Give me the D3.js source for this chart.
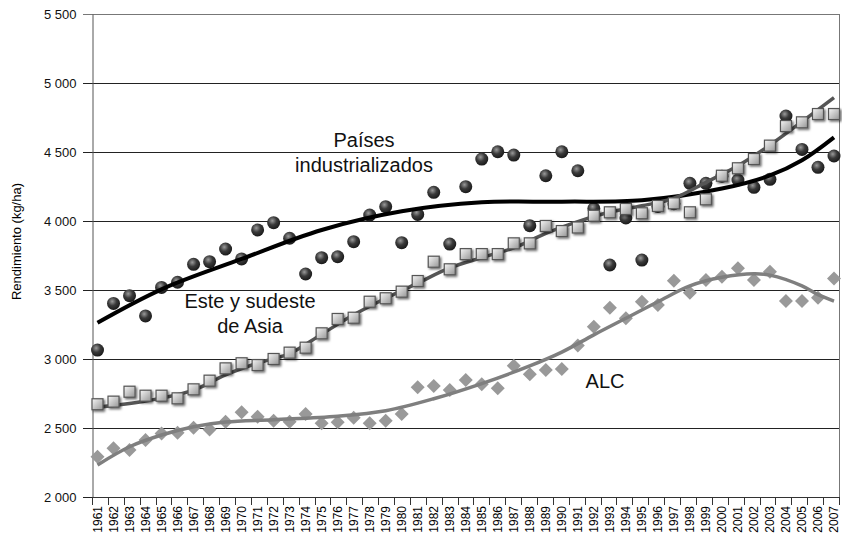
<!DOCTYPE html>
<html>
<head>
<meta charset="utf-8">
<script src="https://cdn.jsdelivr.net/npm/d3@7"></script>
<style>
  body { margin: 0; background: #fff; }
  text { font-family: "Liberation Sans", Arial, sans-serif; }
</style>
</head>
<body>
<script>
const width = 842;
const height = 542;
const margin = { top: 14, right: 3, bottom: 45, left: 92 };

// years 1961..2007
const years = d3.range(1961, 2008);
const yTicks = [2000, 2500, 3000, 3500, 4000, 4500, 5000, 5500];

// Países industrializados (círculos)
const industrializados = [3065, 3403, 3459, 3312, 3519, 3556, 3686, 3705, 3797, 3725,
  3935, 3988, 3875, 3616, 3734, 3741, 3850, 4043, 4104, 3843,
  4048, 4208, 3833, 4249, 4449, 4502, 4478, 3966, 4328, 4502,
  4364, 4090, 3681, 4022, 3717, 4105, 4125, 4273, 4273, 4325,
  4297, 4244, 4302, 4761, 4519, 4389, 4471];

// Este y sudeste de Asia (cuadrados)
const asia = [2672, 2691, 2763, 2734, 2734, 2715, 2780, 2843, 2932, 2969,
  2956, 3000, 3046, 3082, 3186, 3290, 3299, 3415, 3440, 3488,
  3565, 3705, 3650, 3760, 3760, 3760, 3838, 3838, 3964, 3927,
  3953, 4038, 4063, 4087, 4056, 4109, 4128, 4063, 4157, 4328,
  4382, 4449, 4546, 4688, 4715, 4775, 4775];

// ALC (rombos)
const alc = [2292, 2353, 2341, 2413, 2461, 2466, 2502, 2490, 2546, 2614,
  2582, 2553, 2546, 2601, 2534, 2542, 2575, 2534, 2553, 2601,
  2795, 2804, 2775, 2848, 2817, 2788, 2951, 2889, 2920, 2927,
  3098, 3234, 3372, 3295, 3415, 3391, 3567, 3480, 3572, 3596,
  3657, 3572, 3633, 3420, 3420, 3444, 3584];

// trend lines: [year, value]
const trendIndustrializados = [[1961, 3263], [1965, 3505], [1970, 3725], [1975, 3935], [1980, 4070],
  [1985, 4135], [1990, 4140], [1995, 4150], [2000, 4235], [2003, 4330], [2005, 4440], [2007, 4606]];
const trendAsia = [[1961, 2650], [1964, 2695], [1967, 2775], [1969, 2885], [1971, 2970],
  [1973, 3040], [1975, 3180], [1977, 3320], [1979, 3440], [1981, 3550], [1983, 3660], [1985, 3735],
  [1987, 3805], [1989, 3910], [1991, 3995], [1993, 4065], [1995, 4110], [1997, 4165], [1999, 4280],
  [2001, 4400], [2003, 4550], [2005, 4720], [2007, 4894]];
const trendAlc = [[1961, 2232], [1963, 2364], [1965, 2449], [1967, 2509], [1969, 2543], [1972, 2560],
  [1976, 2585], [1979, 2625], [1982, 2712], [1985, 2822], [1988, 2950], [1990, 3050], [1992, 3175],
  [1994, 3295], [1996, 3415], [1998, 3530], [2000, 3592], [2002, 3618], [2003, 3608], [2005, 3530],
  [2006, 3466], [2007, 3420]];

const svg = d3.select("body").append("svg")
  .attr("width", width)
  .attr("height", height);

const defs = svg.append("defs");
const rg = defs.append("radialGradient").attr("id", "ball").attr("cx", "40%").attr("cy", "35%").attr("r", "65%");
rg.append("stop").attr("offset", "0%").attr("stop-color", "#9a9a9a");
rg.append("stop").attr("offset", "50%").attr("stop-color", "#3a3a3a");
rg.append("stop").attr("offset", "100%").attr("stop-color", "#1a1a1a");
const lg = defs.append("linearGradient").attr("id", "box").attr("x1", "0").attr("y1", "0").attr("x2", "1").attr("y2", "1");
lg.append("stop").attr("offset", "0%").attr("stop-color", "#f6f6f6");
lg.append("stop").attr("offset", "100%").attr("stop-color", "#959595");
const sh = defs.append("filter").attr("id", "shadow").attr("x", "-50%").attr("y", "-50%").attr("width", "200%").attr("height", "200%");
sh.append("feDropShadow").attr("dx", 1.5).attr("dy", 1.5).attr("stdDeviation", 1.2).attr("flood-color", "#000").attr("flood-opacity", 0.6);

const x = d3.scalePoint().domain(years).range([97.5, 834]);
const xLin = d3.scaleLinear().domain([1961, 2007]).range(x.range());
const xBand = d3.scaleBand().domain(years).range([margin.left, width - margin.right]);
const y = d3.scaleLinear().domain([2000, 5500]).range([height - margin.bottom, margin.top]);

// grid lines
svg.append("g").selectAll("line").data(yTicks).join("line")
  .attr("x1", margin.left - 9).attr("x2", width - margin.right)
  .attr("y1", d => Math.round(y(d)) + 0.5).attr("y2", d => Math.round(y(d)) + 0.5)
  .attr("stroke", d => d === 5500 ? "#777" : "#222").attr("stroke-width", 1);

// right border
svg.append("line")
  .attr("x1", width - margin.right + 0.5).attr("x2", width - margin.right + 0.5)
  .attr("y1", y(5500)).attr("y2", y(2000))
  .attr("stroke", "#777");

// y axis
const yAxis = svg.append("g")
  .attr("transform", `translate(${margin.left + 0.5},0)`)
  .call(d3.axisLeft(y).tickValues(yTicks).tickSize(0).tickPadding(16)
    .tickFormat(d => d3.format(",")(d).replace(",", " ")));
yAxis.select(".domain").attr("stroke", "#555");
yAxis.selectAll("text").attr("font-size", 13).attr("fill", "#111")
  .attr("font-family", "'Liberation Sans', Arial, sans-serif");

svg.append("text")
  .attr("transform", `translate(21, ${(y(2000) + y(5500)) / 2 - 14}) rotate(-90)`)
  .attr("text-anchor", "middle")
  .attr("font-size", 13)
  .text("Rendimiento (kg/ha)");

// x axis
const xTickPos = years.map(d => xBand(d)).concat([width - margin.right]);
svg.append("line")
  .attr("x1", margin.left).attr("x2", width - margin.right)
  .attr("y1", y(2000) + 0.5).attr("y2", y(2000) + 0.5)
  .attr("stroke", "#333");
svg.append("g").selectAll("line").data(xTickPos).join("line")
  .attr("x1", d => Math.round(d) + 0.5).attr("x2", d => Math.round(d) + 0.5)
  .attr("y1", y(2000)).attr("y2", y(2000) + 8)
  .attr("stroke", "#333");
svg.append("g").selectAll("text").data(years).join("text")
  .attr("transform", d => `translate(${x(d) + 4},${y(2000) + 9}) rotate(-90)`)
  .attr("text-anchor", "end")
  .attr("font-size", 12)
  .text(d => d);

const trendLine = d3.line()
  .x(d => xLin(d[0]))
  .y(d => y(d[1]))
  .curve(d3.curveCatmullRom.alpha(0.5));

function trend(points, color, w) {
  svg.append("path")
    .datum(points)
    .attr("fill", "none")
    .attr("stroke", color)
    .attr("stroke-width", w)
    .attr("d", trendLine);
}

// diamonds
svg.append("g").selectAll("path").data(alc).join("path")
  .attr("transform", (d, i) => `translate(${x(years[i])},${y(d)})`)
  .attr("d", "M0,-7L7,0L0,7L-7,0Z")
  .attr("fill", "#999");
trend(trendAlc, "#7f7f7f", 3.5);

// circles
svg.append("g").selectAll("circle").data(industrializados).join("circle")
  .attr("cx", (d, i) => x(years[i]))
  .attr("cy", d => y(d))
  .attr("r", 6.5)
  .attr("fill", "url(#ball)");
trend(trendIndustrializados, "#000", 4);

// squares
trend(trendAsia, "#555", 3.5);
svg.append("g").attr("filter", "url(#shadow)").selectAll("rect").data(asia).join("rect")
  .attr("x", (d, i) => x(years[i]) - 5.5)
  .attr("y", d => y(d) - 5.5)
  .attr("width", 11).attr("height", 11)
  .attr("fill", "url(#box)")
  .attr("stroke", "#555").attr("stroke-width", 1.2);

// labels
const lab = svg.append("g").attr("font-size", 20).attr("text-anchor", "middle").attr("fill", "#111");
lab.append("text").attr("x", 364).attr("y", 147).text("Países");
lab.append("text").attr("x", 364).attr("y", 172).text("industrializados");
lab.append("text").attr("x", 250).attr("y", 308).text("Este y sudeste");
lab.append("text").attr("x", 250).attr("y", 333).text("de Asia");
lab.append("text").attr("x", 605).attr("y", 388).text("ALC");
</script>
</body>
</html>
